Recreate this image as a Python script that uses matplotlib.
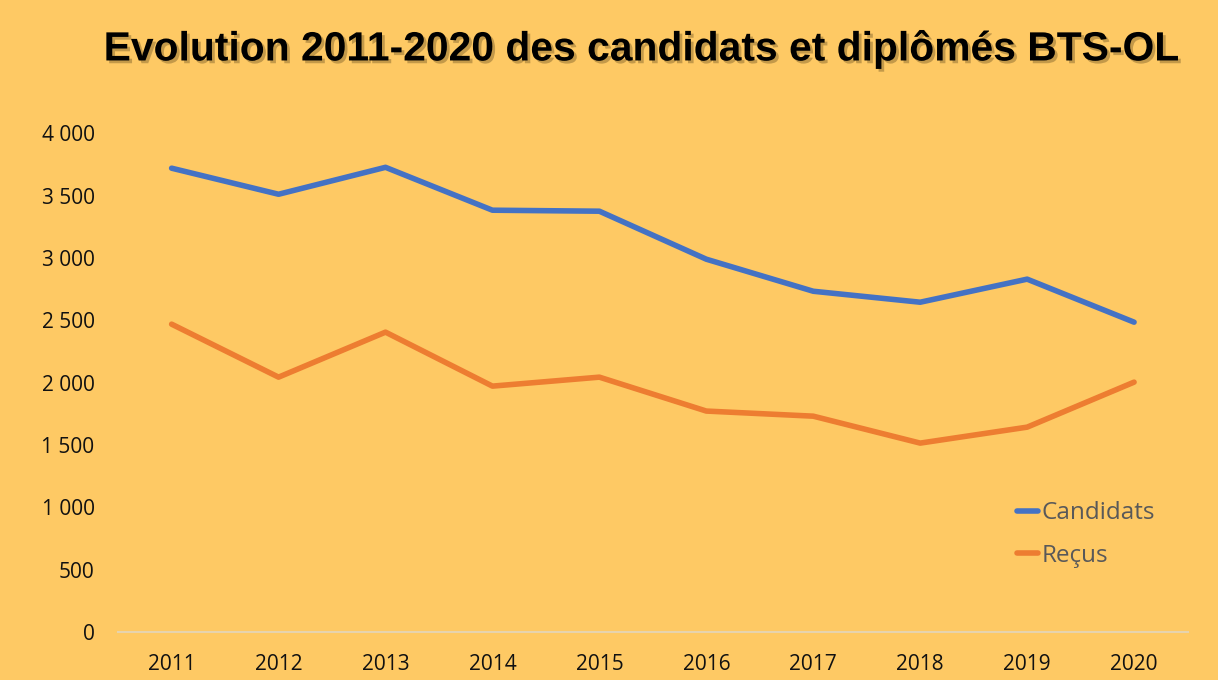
import matplotlib
matplotlib.use("Agg")
import matplotlib.pyplot as plt
import matplotlib.patheffects as pe
from matplotlib.ticker import FuncFormatter

annees = ["2011", "2012", "2013", "2014", "2015", "2016", "2017", "2018", "2019", "2020"]
candidats = [3720, 3511, 3727, 3383, 3375, 2990, 2733, 2645, 2830, 2485]
recus = [2469, 2044, 2405, 1972, 2044, 1772, 1731, 1515, 1643, 2004]

fond = "#FEC964"

fig = plt.figure(figsize=(12.18, 6.8), dpi=100, facecolor=fond)
ax = fig.add_axes([0.097, 0.0706, 0.878, 0.7334])
ax.set_facecolor(fond)

x = list(range(len(annees)))
ax.plot(x, candidats, color="#4472C4", lw=4, solid_capstyle="round", label="Candidats")
ax.plot(x, recus, color="#ED7D31", lw=4, solid_capstyle="round", label="Reçus")

ax.set_xlim(-0.5, len(annees) - 0.5)
ax.set_ylim(0, 4000)
ax.set_yticks(range(0, 4001, 500))
ax.yaxis.set_major_formatter(FuncFormatter(lambda v, p: f"{int(v):,}".replace(",", " ")))
ax.set_xticks(x)
ax.set_xticklabels(annees)

for s in ["top", "right", "left"]:
    ax.spines[s].set_visible(False)
ax.spines["bottom"].set_color("#E6D3AE")
ax.spines["bottom"].set_linewidth(1.5)
ax.tick_params(axis="both", length=0, labelsize=15, colors="#111111")
ax.tick_params(axis="y", pad=17)
ax.tick_params(axis="x", pad=16)
for lab in ax.get_xticklabels() + ax.get_yticklabels():
    lab.set_fontfamily("Open Sans")

leg = ax.legend(loc="lower right", bbox_to_anchor=(0.99, 0.085), frameon=False,
                handlelength=0.85, handletextpad=0.15, labelspacing=0.75,
                prop={"family": "Open Sans", "size": 17.5})
for t in leg.get_texts():
    t.set_color("#595959")

fig.text(0.527, 0.928, "Evolution 2011-2020 des candidats et diplômés BTS-OL",
         ha="center", va="center", fontsize=29.4, fontweight="bold",
         family="Liberation Sans", color="black",
         path_effects=[pe.withSimplePatchShadow(offset=(2, -2), shadow_rgbFace="#8a6a30", alpha=0.5)])

fig.savefig("out.png", dpi=100, facecolor=fond)
